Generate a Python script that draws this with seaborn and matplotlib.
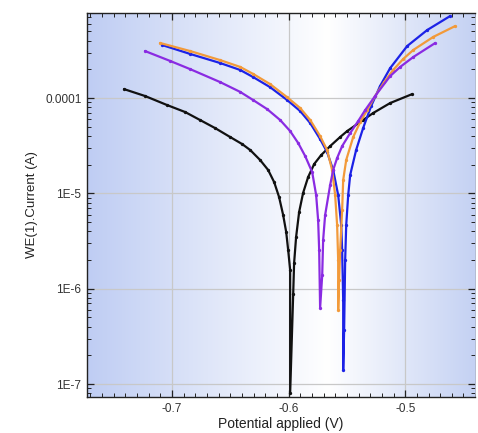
import numpy as np
import pandas as pd
import matplotlib
matplotlib.use('Agg')
import matplotlib.pyplot as plt
from matplotlib.colors import LinearSegmentedColormap
from matplotlib.ticker import FixedLocator, LogLocator, MultipleLocator, NullFormatter
import seaborn as sns

# values (potential in V, current in A)
black_v = [-0.7412, -0.7232, -0.7043, -0.6888, -0.6760, -0.6631, -0.6502, -0.6399, -0.6330,
           -0.6245, -0.6176, -0.6124, -0.6082, -0.6047, -0.6021, -0.6004, -0.5987, -0.5987,
           -0.5961, -0.5953, -0.5936, -0.5910, -0.5876, -0.5833, -0.5781, -0.5721, -0.5644,
           -0.5558, -0.5498, -0.5361, -0.5275, -0.5129, -0.4940]
black_i = [1.24e-4, 1.05e-4, 8.44e-5, 7.13e-5, 5.88e-5, 4.84e-5, 3.90e-5, 3.29e-5, 2.85e-5,
           2.24e-5, 1.76e-5, 1.31e-5, 9.15e-6, 5.92e-6, 3.93e-6, 2.54e-6, 1.57e-6, 8.03e-8,
           8.78e-7, 1.86e-6, 3.48e-6, 6.37e-6, 1.01e-5, 1.48e-5, 2.03e-5, 2.52e-5, 3.13e-5,
           3.90e-5, 4.50e-5, 5.88e-5, 6.96e-5, 8.86e-5, 1.10e-4]

purple_v = [-0.7232, -0.7017, -0.6845, -0.6588, -0.6416, -0.6305, -0.6185, -0.6073, -0.5987,
            -0.5918, -0.5858, -0.5798, -0.5764, -0.5747, -0.5738, -0.5730, -0.5712, -0.5704,
            -0.5687, -0.5644, -0.5618, -0.5584, -0.5541, -0.5472, -0.5403, -0.5343, -0.5258,
            -0.5129, -0.5043, -0.4931, -0.4742]
purple_i = [3.11e-4, 2.45e-4, 2.01e-4, 1.47e-4, 1.16e-4, 9.53e-5, 7.66e-5, 5.88e-5, 4.50e-5,
            3.37e-5, 2.46e-5, 1.67e-5, 9.60e-6, 5.25e-6, 2.54e-6, 6.26e-7, 1.39e-6, 3.24e-6,
            5.92e-6, 1.22e-5, 1.76e-5, 2.35e-5, 3.13e-5, 4.29e-5, 5.74e-5, 7.48e-5, 1.05e-4,
            1.70e-4, 2.12e-4, 2.69e-4, 3.78e-4]

blue_v = [-0.7086, -0.6845, -0.6588, -0.6416, -0.6305, -0.6159, -0.6013, -0.5901, -0.5815,
          -0.5730, -0.5670, -0.5618, -0.5575, -0.5549, -0.5541, -0.5532, -0.5532, -0.5524,
          -0.5515, -0.5506, -0.5489, -0.5472, -0.5421, -0.5361, -0.5292, -0.5215, -0.5129,
          -0.4983, -0.4811, -0.4614]
blue_i = [3.60e-4, 2.90e-4, 2.33e-4, 1.97e-4, 1.66e-4, 1.30e-4, 9.53e-5, 7.30e-5, 5.46e-5,
          3.71e-5, 2.71e-5, 1.76e-5, 9.60e-6, 4.65e-6, 2.54e-6, 7.59e-7, 1.40e-7, 3.68e-7,
          2.00e-6, 4.65e-6, 9.60e-6, 1.56e-5, 2.85e-5, 4.84e-5, 8.24e-5, 1.34e-4, 2.06e-4,
          3.51e-4, 5.17e-4, 7.25e-4]

orange_v = [-0.7103, -0.6845, -0.6588, -0.6416, -0.6305, -0.6159, -0.6013, -0.5901, -0.5815,
            -0.5730, -0.5670, -0.5627, -0.5601, -0.5584, -0.5575, -0.5575, -0.5567, -0.5558,
            -0.5541, -0.5532, -0.5506, -0.5446, -0.5386, -0.5326, -0.5258, -0.5180, -0.5103,
            -0.5017, -0.4931, -0.4760, -0.4571]
orange_i = [3.78e-4, 3.11e-4, 2.50e-4, 2.12e-4, 1.79e-4, 1.40e-4, 1.02e-4, 7.85e-5, 5.88e-5,
            3.99e-5, 2.85e-5, 1.76e-5, 9.60e-6, 4.65e-6, 2.00e-6, 5.96e-7, 1.23e-6, 2.54e-6,
            6.68e-6, 1.38e-5, 2.24e-5, 3.90e-5, 5.60e-5, 7.48e-5, 1.05e-4, 1.47e-4, 1.97e-4,
            2.57e-4, 3.19e-4, 4.37e-4, 5.69e-4]

x_ticks = [-0.7, -0.6, -0.5]
x_labels = ['-0.7', '-0.6', '-0.5']
y_ticks = [1e-4, 1e-5, 1e-6, 1e-7]
y_labels = ['0.0001', '1E-5', '1E-6', '1E-7']

series = [
    (black_v, black_i, '#111111'),
    (blue_v, blue_i, '#1c22e6'),
    (orange_v, orange_i, '#f29a3a'),
    (purple_v, purple_i, '#8a2be2'),
]

sns.set_style('ticks')
plt.rcParams['font.family'] = ['Liberation Sans', 'DejaVu Sans']

fig = plt.figure(figsize=(4.78, 4.33), dpi=100)
ax = fig.add_axes([0.182, 0.083, 0.812, 0.887])

# background gradient: blue -> white -> light blue
bg = LinearSegmentedColormap.from_list(
    'bg', [(0.0, '#bfcdf3'), (0.62, '#ffffff'), (1.0, '#c4d1f3')])
ax.imshow(np.linspace(0, 1, 256).reshape(1, -1), cmap=bg, aspect='auto',
          extent=[0, 1, 0, 1], transform=ax.transAxes, zorder=0)

for v, i, c in series:
    df = pd.DataFrame({'v': v, 'i': i})
    sns.lineplot(data=df, x='v', y='i', ax=ax, sort=False, estimator=None,
                 color=c, linewidth=1.6, marker='o', markersize=2.4,
                 markeredgewidth=0, zorder=3)

ax.set_yscale('log')
ax.set_xlim(-0.773, -0.440)
ax.set_ylim(7.3e-8, 7.8e-4)

ax.xaxis.set_major_locator(FixedLocator(x_ticks))
ax.set_xticklabels(x_labels)
ax.xaxis.set_minor_locator(MultipleLocator(0.01))
ax.yaxis.set_major_locator(FixedLocator(y_ticks))
ax.set_yticklabels(y_labels)
ax.yaxis.set_minor_locator(LogLocator(base=10, subs=np.arange(2, 10)))
ax.yaxis.set_minor_formatter(NullFormatter())

ax.grid(True, which='major', color='#c8c8c8', linewidth=0.9, zorder=1)
ax.set_axisbelow(True)

ax.tick_params(which='both', direction='in', top=True, right=True,
               color='#222222', labelsize=8.5, labelcolor='#333333')
ax.tick_params(which='major', length=5, width=0.9, pad=4)
ax.tick_params(which='minor', length=3, width=0.7)

for s in ['left', 'bottom', 'top']:
    ax.spines[s].set_color('#222222')
    ax.spines[s].set_linewidth(1.0)
ax.spines['right'].set_color('#b0b8cc')
ax.spines['right'].set_linewidth(0.6)

ax.set_xlabel('Potential applied (V)', fontsize=10, color='#222222', labelpad=2)
ax.set_ylabel('WE(1).Current (A)', fontsize=9.5, color='#222222', labelpad=5)

fig.savefig('out.png', dpi=100)
